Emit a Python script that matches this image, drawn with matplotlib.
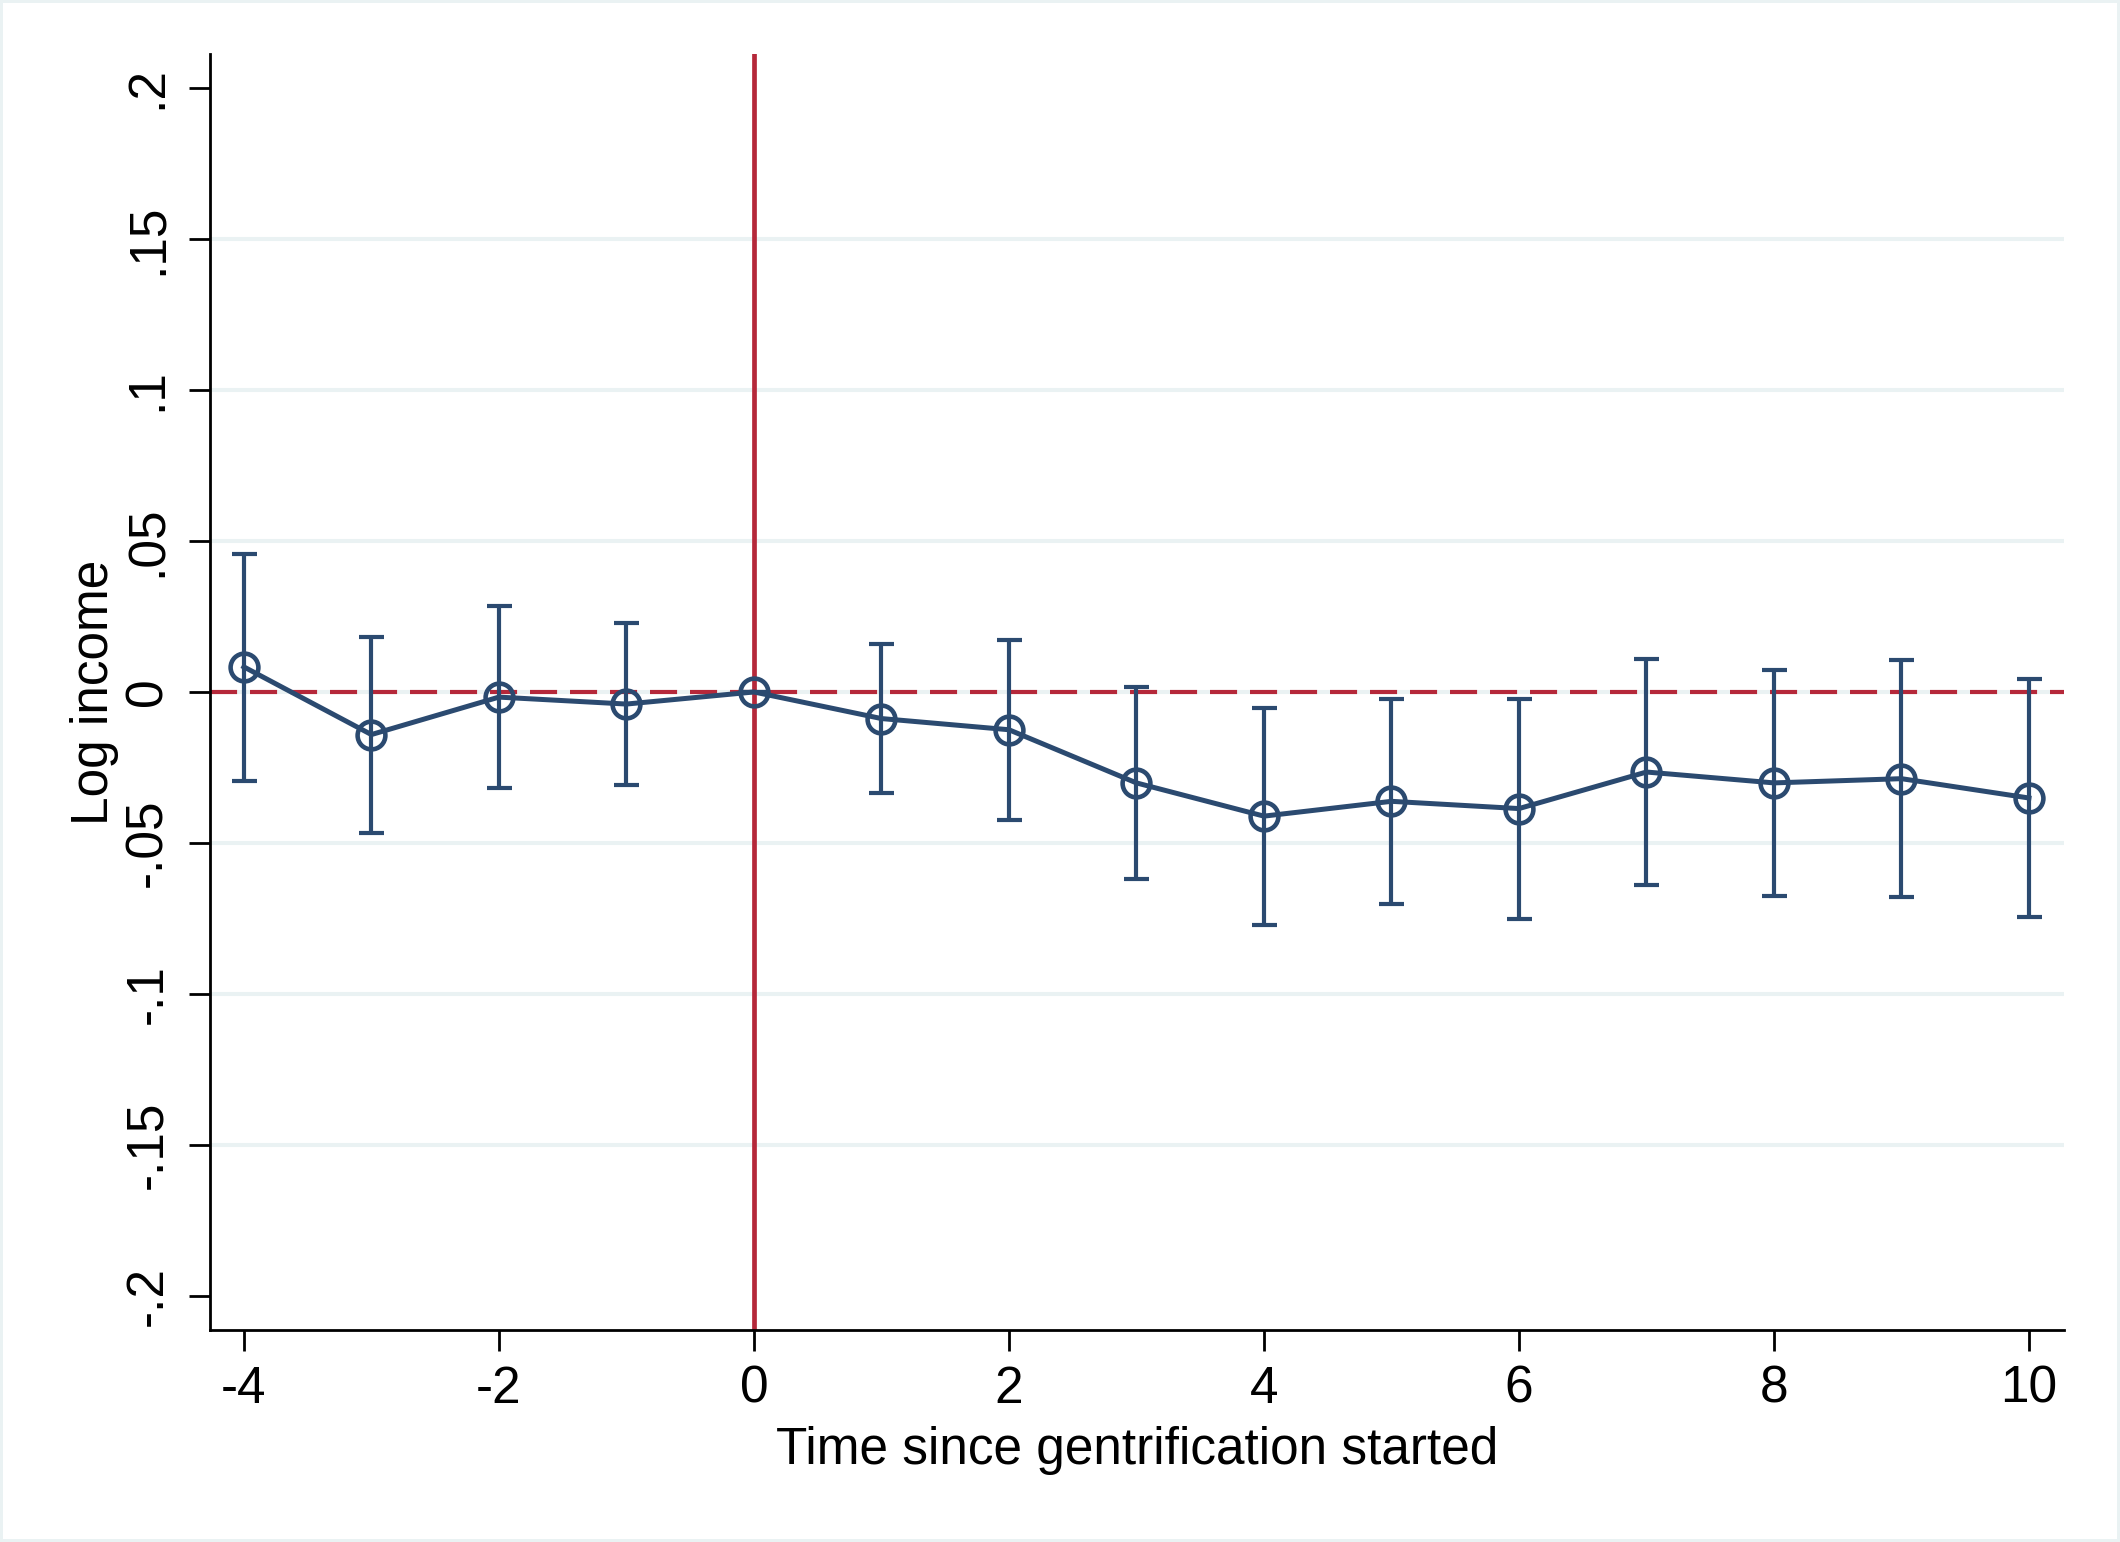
import matplotlib
matplotlib.use("Agg")
import matplotlib.pyplot as plt
import numpy as np

# event time, point estimates and 95% CI
periodo = [-4, -3, -2, -1, 0, 1, 2, 3, 4, 5, 6, 7, 8, 9, 10]
coef = [0.0083, -0.0141, -0.0017, -0.0040, 0.0, -0.0088, -0.0125, -0.0301,
        -0.0411, -0.0362, -0.0386, -0.0265, -0.0301, -0.0287, -0.0351]
ci_alto = [0.0458, 0.0182, 0.0283, 0.0227, 0.0, 0.0158, 0.0172, 0.0015,
           -0.0054, -0.0023, -0.0022, 0.0108, 0.0073, 0.0106, 0.0043]
ci_bajo = [-0.0294, -0.0467, -0.0318, -0.0307, 0.0, -0.0333, -0.0423, -0.0618,
           -0.0770, -0.0703, -0.0752, -0.0639, -0.0677, -0.0679, -0.0745]

yticks = [-0.2, -0.15, -0.1, -0.05, 0, 0.05, 0.1, 0.15, 0.2]
yticklabels = ['-.2', '-.15', '-.1', '-.05', '0', '.05', '.1', '.15', '.2']
xticks = [-4, -2, 0, 2, 4, 6, 8, 10]

AZUL = '#2B4A70'
ROJO = '#B5283A'
GRILLA = '#EAF2F3'

plt.rcParams['font.family'] = ['Liberation Sans', 'DejaVu Sans']
plt.rcParams['axes.unicode_minus'] = False

fig = plt.figure(figsize=(21.2, 15.42), dpi=100)
fig.patch.set_facecolor('white')
fig.patch.set_edgecolor(GRILLA)
fig.patch.set_linewidth(3)
ax = fig.add_axes([0.0991, 0.1375, 0.8745, 0.8275])

# grid lines only at inner ticks (Stata style)
for t in yticks[1:-1]:
    ax.axhline(t, color=GRILLA, lw=2.9, zorder=0)

ax.axhline(0, color=ROJO, lw=3.0, dashes=(6.5, 3.1), zorder=1)
ax.axvline(0, color=ROJO, lw=3.4, zorder=1)

coef = np.array(coef)
err = [coef - np.array(ci_bajo), np.array(ci_alto) - coef]
ax.errorbar(periodo, coef, yerr=err, fmt='none', ecolor=AZUL, elinewidth=3.0,
            capsize=9, capthick=3.0, zorder=3)
ax.plot(periodo, coef, color=AZUL, lw=3.6, marker='o', markersize=20,
        markerfacecolor='none', markeredgecolor=AZUL, markeredgewidth=3.3,
        zorder=4)

ax.set_xlim(-4.265, 10.275)
ax.set_ylim(-0.2112, 0.2112)
ax.set_xticks(xticks)
ax.set_yticks(yticks)
ax.set_yticklabels(yticklabels, rotation=90, va='center')

for s in ['top', 'right']:
    ax.spines[s].set_visible(False)
for s in ['left', 'bottom']:
    ax.spines[s].set_linewidth(2)
ax.tick_params(axis='both', length=15, width=2, labelsize=37)
ax.tick_params(axis='x', pad=10)
ax.tick_params(axis='y', pad=12)

ax.set_xlabel('Time since gentrification started', fontsize=37, labelpad=9)
ax.set_ylabel('Log income', fontsize=37, labelpad=3)

fig.savefig('out.png', dpi=100, facecolor=fig.get_facecolor(),
            edgecolor=fig.get_edgecolor())
